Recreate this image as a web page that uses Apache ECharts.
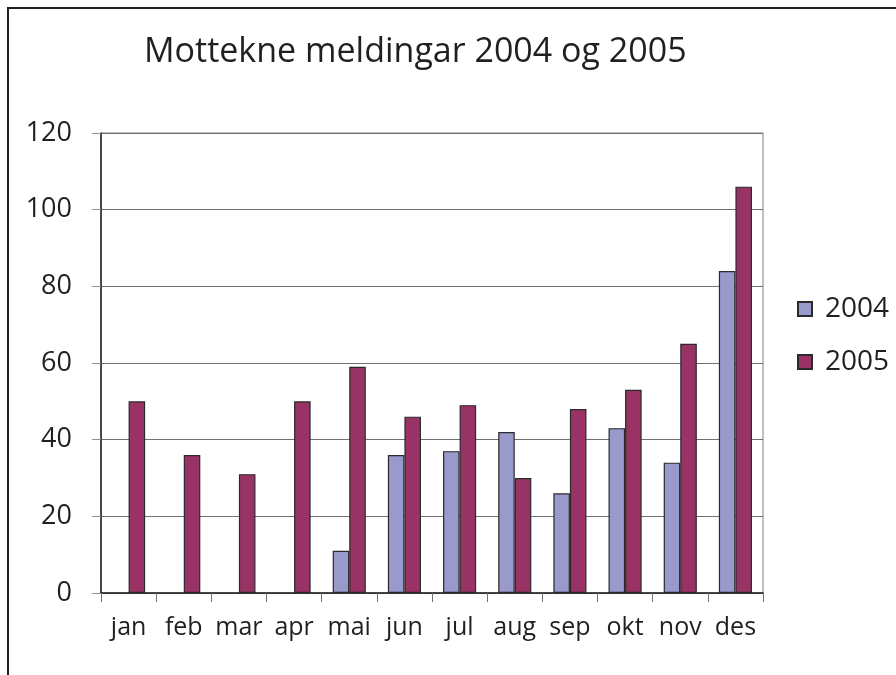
<!DOCTYPE html>
<html>
<head>
<meta charset="utf-8">
<script src="https://cdn.jsdelivr.net/npm/echarts@6/dist/echarts.min.js"></script>
<style>
  html, body { margin: 0; padding: 0; background: #fff; }
  #chart { width: 896px; height: 675px; }
</style>
</head>
<body>
<div id="chart"></div>
<script>
var months = ['jan', 'feb', 'mar', 'apr', 'mai', 'jun', 'jul', 'aug', 'sep', 'okt', 'nov', 'des'];
var data2004 = ['-', '-', '-', '-', 11, 36, 37, 42, 26, 43, 34, 84];
var data2005 = [50, 36, 31, 50, 59, 46, 49, 30, 48, 53, 65, 106];

var font = '"Open Sans", "DejaVu Sans", sans-serif';

var chart = echarts.init(document.getElementById('chart'));
chart.setOption({
  animation: false,
  textStyle: { fontFamily: font },
  title: {
    text: 'Mottekne meldingar 2004 og 2005',
    left: 139,
    top: 30,
    textStyle: { fontFamily: font, fontSize: 34, fontWeight: 'normal', color: '#231f20' }
  },
  graphic: [{
    type: 'rect',
    shape: { x: 8, y: 8, width: 1000, height: 1000 },
    style: { fill: 'none', stroke: '#231f20', lineWidth: 2 },
    silent: true
  }],
  legend: {
    orient: 'vertical',
    left: 792,
    top: 290,
    itemWidth: 14,
    itemHeight: 14,
    itemGap: 25,
    icon: 'rect',
    textStyle: { fontFamily: font, fontSize: 28, lineHeight: 28, color: '#231f20', padding: [0, 0, 0, 8] },
    data: ['2004', '2005']
  },
  grid: {
    left: 101,
    right: 133,
    top: 133,
    bottom: 82,
    show: true,
    borderColor: '#808080',
    borderWidth: 1
  },
  xAxis: {
    type: 'category',
    data: months,
    axisLine: { lineStyle: { color: '#231f20', width: 1.5 } },
    axisTick: { show: true, interval: 0, length: 9, lineStyle: { color: '#707070' } },
    axisLabel: { interval: 0, fontFamily: font, fontSize: 25, color: '#231f20', margin: 22 }
  },
  yAxis: {
    type: 'value',
    min: 0,
    max: 120,
    interval: 20,
    axisLine: { show: true, lineStyle: { color: '#231f20', width: 1.5 } },
    axisTick: { show: true, length: 9, lineStyle: { color: '#909090' } },
    axisLabel: { fontFamily: font, fontSize: 27, color: '#231f20', margin: 29 },
    splitLine: { lineStyle: { color: '#707070', width: 1 } }
  },
  series: [{
    name: '2004',
    type: 'bar',
    data: data2004,
    barGap: '0%',
    barCategoryGap: '40%',
    itemStyle: { color: '#9999cc', borderColor: '#2a2a2a', borderWidth: 1.2 }
  }, {
    name: '2005',
    type: 'bar',
    data: data2005,
    barGap: '0%',
    barCategoryGap: '40%',
    itemStyle: { color: '#993366', borderColor: '#2a2a2a', borderWidth: 1.2 }
  }]
});
</script>
</body>
</html>
